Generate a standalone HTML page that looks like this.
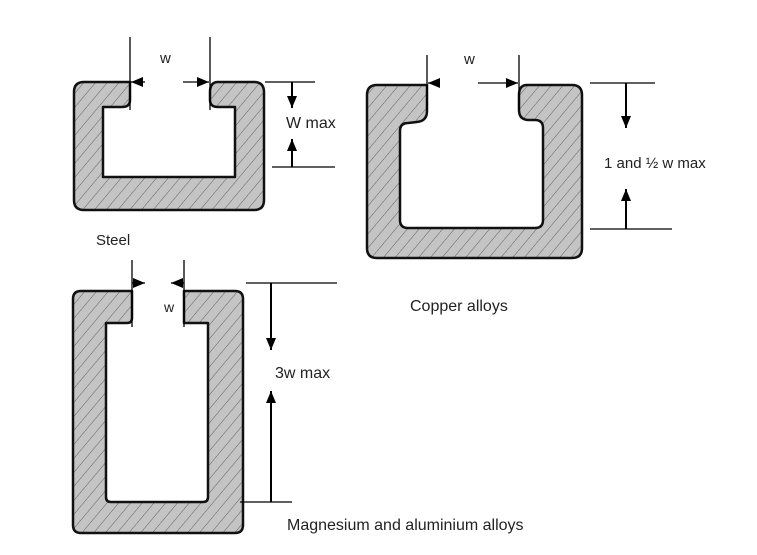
<!DOCTYPE html>
<html><head><meta charset="utf-8"><style>
html,body{margin:0;padding:0;background:#fff;}
svg{display:block;}
text{font-family:"Liberation Sans",sans-serif;fill:#222;}
</style></head><body>
<svg width="757" height="555" viewBox="0 0 757 555" xmlns="http://www.w3.org/2000/svg">
<defs>
<pattern id="h" width="9" height="9" patternUnits="userSpaceOnUse" patternTransform="rotate(40)">
<rect width="9" height="9" fill="#c4c4c4"/>
<line x1="0" y1="0" x2="0" y2="9" stroke="#555" stroke-width="0.9"/>
</pattern>
<marker id="a" viewBox="0 0 10 10" refX="10" refY="5" markerWidth="12" markerHeight="10" orient="auto-start-reverse" markerUnits="userSpaceOnUse" preserveAspectRatio="none">
<path d="M0,0 L10,5 L0,10 Z" fill="#000"/>
</marker>
</defs>
<g stroke="#111" stroke-width="2.5" fill="url(#h)" stroke-linejoin="round">
<path d="M130,82 L84,82 Q74,82 74,92 L74,200 Q74,210 84,210 L254,210 Q264,210 264,200 L264,92 Q264,82 254,82 L218,82 Q210,82 210,92 L210,100 Q210,107 218,107 L235,107 L235,177 L103,177 L103,107 L122,107 Q130,107 130,100 Z"/>
<path d="M427,85 L377,85 Q367,85 367,95 L367,248 Q367,258 377,258 L572,258 Q582,258 582,248 L582,95 Q582,85 572,85 L527,85 Q519,85 519,95 L519,110 Q519,120 529,120 L535,120 Q543,120 543,128 L543,220 Q543,228 535,228 L408,228 Q400,228 400,220 L400,131 Q400,123 408,123 L417,122 Q427,121 427,111 Z"/>
<path d="M132,291 L81,291 Q73,291 73,299 L73,525 Q73,533 81,533 L235,533 Q243,533 243,525 L243,299 Q243,291 235,291 L184,291 L184,323 L208,323 L208,497 Q208,502 203,502 L111,502 Q106,502 106,497 L106,323 L127,323 Q132,323 132,318 Z"/>
</g>
<g stroke="#000" stroke-width="1.3" fill="none">
<line x1="130" y1="37" x2="130" y2="110"/>
<line x1="210" y1="37" x2="210" y2="110"/>
<line x1="145" y1="82" x2="131" y2="82" marker-end="url(#a)"/>
<line x1="183" y1="82" x2="209" y2="82" marker-end="url(#a)"/>
<line x1="265" y1="82" x2="315" y2="82"/>
<line x1="272" y1="167" x2="335" y2="167"/>
<line x1="292" y1="82" x2="292" y2="108" stroke-width="2" marker-end="url(#a)"/>
<line x1="292" y1="167" x2="292" y2="139" stroke-width="2" marker-end="url(#a)"/>
<line x1="427" y1="55" x2="427" y2="110"/>
<line x1="519" y1="55" x2="519" y2="110"/>
<line x1="440" y1="83" x2="428" y2="83" marker-end="url(#a)"/>
<line x1="478" y1="83" x2="518" y2="83" marker-end="url(#a)"/>
<line x1="590" y1="83" x2="655" y2="83"/>
<line x1="590" y1="229" x2="672" y2="229"/>
<line x1="626" y1="83" x2="626" y2="128" stroke-width="2" marker-end="url(#a)"/>
<line x1="626" y1="229" x2="626" y2="189" stroke-width="2" marker-end="url(#a)"/>
<line x1="132" y1="260" x2="132" y2="327"/>
<line x1="184" y1="260" x2="184" y2="327"/>
<line x1="132" y1="283" x2="145" y2="283" marker-end="url(#a)"/>
<line x1="184" y1="283" x2="171" y2="283" marker-end="url(#a)"/>
<line x1="246" y1="283" x2="337" y2="283"/>
<line x1="240" y1="502" x2="292" y2="502"/>
<line x1="271" y1="283" x2="271" y2="350" stroke-width="2" marker-end="url(#a)"/>
<line x1="271" y1="502" x2="271" y2="391" stroke-width="2" marker-end="url(#a)"/>
</g>
<text x="160" y="63" font-size="15">w</text>
<text x="286" y="128" font-size="16">W max</text>
<text x="96" y="245" font-size="15">Steel</text>
<text x="464" y="64" font-size="15">w</text>
<text x="604" y="168" font-size="15">1 and ½ w max</text>
<text x="410" y="311" font-size="16">Copper alloys</text>
<text x="164" y="312" font-size="14">w</text>
<text x="275" y="378" font-size="16">3w max</text>
<text x="287" y="530" font-size="16">Magnesium and aluminium alloys</text>
</svg>
</body></html>
